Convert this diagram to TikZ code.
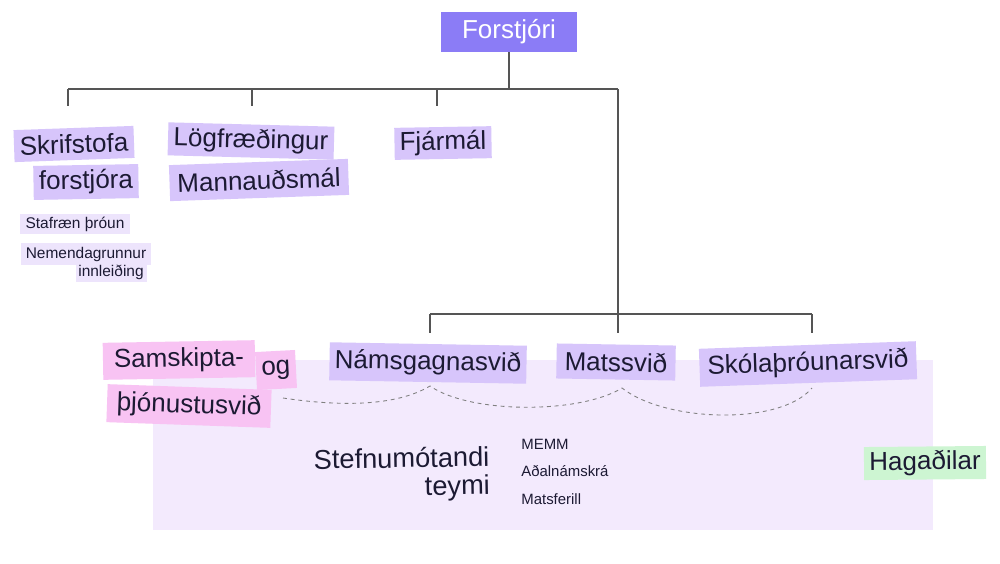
\documentclass[tikz,border=0pt]{standalone}
\usepackage{fontspec}
\setmainfont{Liberation Sans}
\usetikzlibrary{positioning}
\definecolor{boss}{HTML}{8B7CF6}
\definecolor{lila}{HTML}{D7C5FB}
\definecolor{pale}{HTML}{EDE4FC}
\definecolor{bleik}{HTML}{F8C3F3}
\definecolor{graen}{HTML}{CDF5D2}
\definecolor{bak}{HTML}{F3EAFD}
\definecolor{ink}{HTML}{1C1A33}
\definecolor{lin}{HTML}{555555}
\tikzset{
  unit/.style={inner sep=0pt, text=ink, font=\fontsize{14.8}{17}\selectfont},
  deild/.style={unit, fill=lila},
  smaa/.style={inner sep=0pt, text=ink, fill=pale, font=\fontsize{8.8}{10}\selectfont},
  verk/.style={anchor=west, inner sep=0pt, text=ink, font=\fontsize{8.5}{10}\selectfont},
  tree/.style={draw=lin, line width=0.6pt},
  band/.style={draw=gray, line width=0.5pt, dash pattern=on 2.2pt off 2.2pt}}

\begin{document}
\begin{tikzpicture}[x=0.2mm, y=-0.2mm]
\useasboundingbox[fill=white] (0,0) rectangle (1000,563);
% svid background
\fill[bak] (153,360) rectangle (933,530);
% top
\node[unit, fill=boss, text=white, minimum width=2.72cm, minimum height=0.80cm] (forstj) at (509,32) {Forstjóri};
\node[deild, minimum width=2.40cm, minimum height=0.64cm, rotate=2] (skrif) at (74,144) {Skrifstofa};
\node[deild, minimum width=2.10cm, minimum height=0.68cm, rotate=1] (skrif2) at (86,182) {forstjóra};
\node[deild, minimum width=3.32cm, minimum height=0.66cm, rotate=-1.5] (logf) at (251,141) {Lögfræðingur};
\node[deild, minimum width=3.58cm, minimum height=0.72cm, rotate=2] (mannaud) at (259,180) {Mannauðsmál};
\node[deild, minimum width=1.94cm, minimum height=0.64cm, rotate=1] (fjarm) at (443,143) {Fjármál};
\node[smaa, minimum width=2.20cm, minimum height=0.40cm] (stafr) at (75,224) {Stafræn þróun};
\node[smaa, minimum width=2.58cm, minimum height=0.44cm] (nemgr) at (86,254) {Nemendagrunnur};
\node[smaa, minimum width=1.42cm, minimum height=0.38cm] (innl) at (111,272) {innleiðing};
% tree
\coordinate (b1) at (68,89);
\coordinate (b2) at (252,89);
\coordinate (b3) at (437,89);
\coordinate (b4) at (618,89);
\coordinate (d1) at (68,106);
\coordinate (d2) at (252,106);
\coordinate (d3) at (437,106);
\coordinate (d4) at (618,333);
\coordinate (c1) at (430,314);
\coordinate (c3) at (812,314);
\draw[tree] (b1) -- (b4);
\draw[tree] (forstj) -- (forstj |- b1);
\foreach \i in {1,2,3} \draw[tree] (b\i) -- (d\i);
\draw[tree] (b4) -- (d4);
\draw[tree] (c1) -- (c3);
\draw[tree] (c1) -- (c1 |- d4);
\draw[tree] (c3) -- (c3 |- d4);
% dashed band
\coordinate (p0) at (283,398);
\coordinate (p1) at (430,386);
\coordinate (p2) at (622,388);
\coordinate (p3) at (812,388);
\draw[band] (p0) .. controls (350,408) and (400,404) .. (p1)
  .. controls (470,414) and (580,414) .. (p2)
  .. controls (665,422) and (780,426) .. (p3);
% svid
\node[unit, fill=bleik, minimum width=3.04cm, minimum height=0.74cm, rotate=1] (samsk) at (179,360) {Samskipta-};
\node[unit, fill=bleik, minimum width=0.80cm, minimum height=0.76cm, rotate=3] (og) at (276,370) {og};
\node[unit, fill=bleik, minimum width=3.28cm, minimum height=0.76cm, rotate=-2] (thjon) at (189,406) {þjónustusvið};
\node[deild, minimum width=3.94cm, minimum height=0.76cm, rotate=-1] (namsg) at (428,363) {Námsgagnasvið};
\node[deild, minimum width=2.38cm, minimum height=0.70cm, rotate=-1] (mats) at (616,362) {Matssvið};
\node[deild, minimum width=4.34cm, minimum height=0.76cm, rotate=2] (skolath) at (808,364) {Skólaþróunarsvið};
\node[unit, fill=graen, minimum width=2.44cm, minimum height=0.66cm, rotate=0.5] (hagad) at (925,463) {Hagaðilar};
\node[anchor=east, align=right, inner sep=0pt, text=ink, font=\fontsize{15.5}{16}\selectfont, rotate=1] (stefna) at (490,473) {Stefnumótandi\\teymi};
\node[verk] (memm) at (521,444) {MEMM};
\node[verk] (adaln) at (521,471) {Aðalnámskrá};
\node[verk] (matsf) at (521,499) {Matsferill};
\end{tikzpicture}
\end{document}
